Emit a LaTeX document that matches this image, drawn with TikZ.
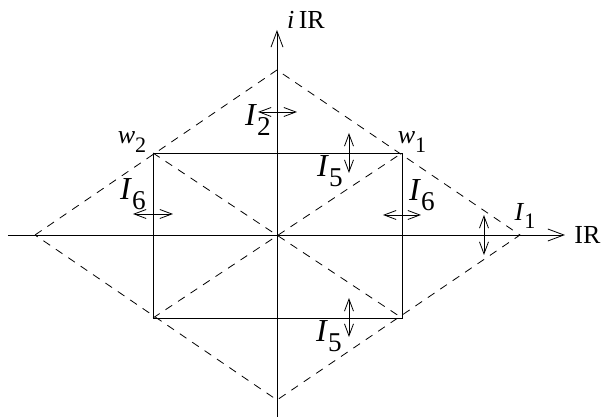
\documentclass[tikz,border=0pt]{standalone}
\usepackage{fontspec}
\setmainfont{Liberation Serif}
\usepackage{graphicx}
\usepackage{tikz}
\usetikzlibrary{arrows.meta}

\newcommand{\ilab}[2]{\textit{#1}\raisebox{-0.7ex}{\scalebox{0.85}{#2}}}

\tikzset{
  axis/.style={line width=0.4pt, -{Straight Barb[length=8pt, width=6pt]}},
  rim/.style={line width=0.4pt, dash pattern=on 4pt off 3.5pt},
  side/.style={line width=0.4pt},
  span/.style={line width=0.4pt, {Straight Barb[length=6pt, width=4.5pt]}-{Straight Barb[length=6pt, width=4.5pt]}},
  biglab/.style={inner sep=0pt, font=\fontsize{16}{18}\selectfont},
  smalllab/.style={inner sep=0pt, font=\fontsize{13}{15}\selectfont}
}

\begin{document}
\begin{tikzpicture}[x=0.5pt, y=0.5pt]
  \useasboundingbox (-277, -182) rectangle (325, 235);

  % axes
  \coordinate (xs) at (-269, 0);
  \coordinate (xe) at (288, 0);
  \coordinate (ys) at (0, -182);
  \coordinate (ye) at (0, 205);
  \draw[axis] (xs) -- (xe);
  \draw[axis] (ys) -- (ye);
  \node[smalllab, anchor=west] (re) at (297, 0) {IR};
  \node[smalllab] (im) at (29, 215) {\textit{i}\,IR};

  % outer diamond
  \coordinate (dl) at (-242, 0);
  \coordinate (dt) at (0, 165);
  \coordinate (dr) at (243, 0);
  \coordinate (db) at (0, -165);
  \draw[rim] (dl) -- (dt) -- (dr) -- (db) -- cycle;

  % rectangle and its diagonals
  \coordinate (w1) at (125, 82);
  \coordinate (w2) at (-124, 82);
  \coordinate (w3) at (-124, -83);
  \coordinate (w4) at (125, -83);
  \draw[side] (w1) -- (w2) -- (w3) -- (w4) -- cycle;
  \draw[rim] (w2) -- (w4);
  \draw[rim] (w3) -- (w1);

  \node[smalllab] (lw1) at (135, 93) {\ilab{w}{1}};
  \node[smalllab] (lw2) at (-145, 93) {\ilab{w}{2}};

  % intervals
  \coordinate (a2s) at (-19, 123);
  \coordinate (a2e) at (20, 123);
  \draw[span] (a2s) -- (a2e);
  \node[biglab] (l2) at (-19, 115) {\ilab{I}{2}};

  \coordinate (a5s) at (72, 102);
  \coordinate (a5e) at (72, 62);
  \draw[span] (a5s) -- (a5e);
  \node[biglab] (l5) at (53, 64) {\ilab{I}{5}};

  \coordinate (b5s) at (72, -63);
  \coordinate (b5e) at (72, -102);
  \draw[span] (b5s) -- (b5e);
  \node[biglab] (m5) at (52, -101) {\ilab{I}{5}};

  \coordinate (a6s) at (-144, 21);
  \coordinate (a6e) at (-104, 21);
  \draw[span] (a6s) -- (a6e);
  \node[biglab] (l6) at (-144, 41) {\ilab{I}{6}};

  \coordinate (b6s) at (106, 20);
  \coordinate (b6e) at (144, 20);
  \draw[span] (b6s) -- (b6e);
  \node[biglab] (m6) at (145, 40) {\ilab{I}{6}};

  \coordinate (a1s) at (207, 20);
  \coordinate (a1e) at (207, -20);
  \draw[span] (a1s) -- (a1e);
  \node[smalllab] (l1) at (248, 19) {\ilab{I}{1}};
\end{tikzpicture}
\end{document}
